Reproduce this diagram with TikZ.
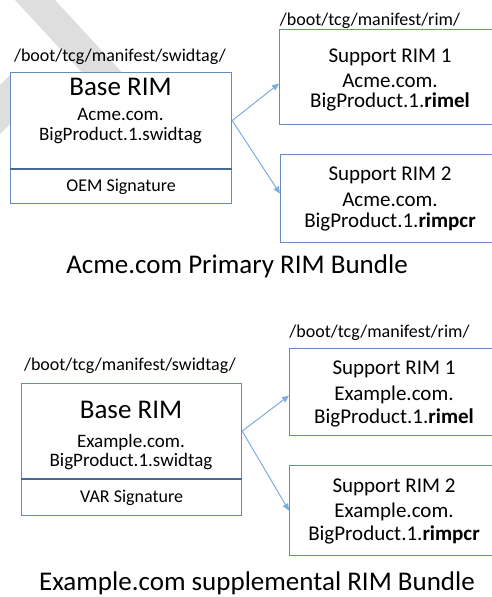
\documentclass[tikz,border=0pt]{standalone}
\usepackage{fontspec}
\setmainfont{Carlito}
\usetikzlibrary{arrows.meta}

\definecolor{rimblue}{RGB}{100,140,190}
\definecolor{rimdark}{RGB}{70,105,150}
\definecolor{linkblue}{RGB}{125,172,222}
\definecolor{wmgray}{RGB}{222,222,222}

\tikzset{
  rimbox/.style={draw=rimblue, line width=1.2pt, fill=white, inner sep=0pt, anchor=north west},
  sigbox/.style={rimbox, font=\fontsize{18}{20}\selectfont},
  pathlabel/.style={anchor=base, font=\fontsize{18}{20}\selectfont},
  rimname/.style={anchor=base, font=\fontsize{27}{30}\selectfont},
  baseline/.style={anchor=base, font=\fontsize{19}{21}\selectfont},
  supline/.style={anchor=base, font=\fontsize{21}{23}\selectfont},
  bundle/.style={anchor=base, font=\fontsize{27}{30}\selectfont},
  link/.style={draw=linkblue, line width=1pt, -{Triangle[length=7pt,width=6pt]}}
}

\begin{document}
\begin{tikzpicture}[x=1pt,y=-1pt]
\useasboundingbox (0,0) rectangle (492,597);

% watermark
\fill[wmgray] (15,0) -- (55,0) -- (140,92) -- (100,92) -- cycle;
\fill[wmgray] (0,85) -- (14,71) -- (14,120) -- (0,134) -- cycle;

% ---- Acme.com primary bundle
\node[pathlabel] (pathA1) at (120,61) {/boot/tcg/manifest/swidtag/};
\node[pathlabel] (pathA2) at (370,25) {/boot/tcg/manifest/rim/};

\node[rimbox, minimum width=221pt, minimum height=96pt] (baseA) at (10,72) {};
\node[sigbox, minimum width=221pt, minimum height=34pt] (sigA) at (baseA.south west) {OEM Signature};
\draw[rimdark, line width=1.8pt] (sigA.north west) -- (sigA.north east);
\node[rimname] (nameA) at (120.5,95) {Base RIM};
\node[baseline] (orgA) at (120.5,120) {Acme.com.};
\node[baseline] (fileA) at (120.5,140) {BigProduct.1.swidtag};

\node[rimbox, minimum width=230pt, minimum height=95pt] (supA1) at (279,29) {};
\node[supline] (supA1a) at (390,62) {Support RIM 1};
\node[supline] (supA1b) at (390,87) {Acme.com.};
\node[supline] (supA1c) at (390,107) {BigProduct.1.\textbf{rimel}};

\node[rimbox, minimum width=230pt, minimum height=88pt] (supA2) at (280,154) {};
\node[supline] (supA2a) at (390,180) {Support RIM 2};
\node[supline] (supA2b) at (390,206) {Acme.com.};
\node[supline] (supA2c) at (390,227) {BigProduct.1.\textbf{rimpcr}};

\draw[link] (baseA.east) -- ([yshift=-6.5pt]supA1.west);
\draw[link] (baseA.east) -- ([yshift=5pt]supA2.west);

\node[bundle] (titleA) at (237,273) {Acme.com Primary RIM Bundle};

% ---- Example.com supplemental bundle
\node[pathlabel] (pathB1) at (130,370) {/boot/tcg/manifest/swidtag/};
\node[pathlabel] (pathB2) at (379.5,337) {/boot/tcg/manifest/rim/};

\node[rimbox, minimum width=220pt, minimum height=95pt] (baseB) at (21,383) {};
\node[sigbox, minimum width=220pt, minimum height=36pt] (sigB) at (baseB.south west) {VAR Signature};
\draw[rimdark, line width=1.8pt] (sigB.north west) -- (sigB.north east);
\node[rimname] (nameB) at (131,418) {Base RIM};
\node[baseline] (orgB) at (131,447) {Example.com.};
\node[baseline] (fileB) at (131,466) {BigProduct.1.swidtag};

\node[rimbox, minimum width=220pt, minimum height=87pt] (supB1) at (289,348) {};
\node[supline] (supB1a) at (394,374) {Support RIM 1};
\node[supline] (supB1b) at (394,400) {Example.com.};
\node[supline] (supB1c) at (394,423) {BigProduct.1.\textbf{rimel}};

\node[rimbox, minimum width=220pt, minimum height=90pt] (supB2) at (289,465) {};
\node[supline] (supB2a) at (394,492) {Support RIM 2};
\node[supline] (supB2b) at (394,517) {Example.com.};
\node[supline] (supB2c) at (394,540) {BigProduct.1.\textbf{rimpcr}};

\draw[link] (baseB.east) -- ([yshift=-3.5pt]supB1.west);
\draw[link] (baseB.east) -- (supB2.west);

\node[bundle] (titleB) at (257,590) {Example.com supplemental RIM Bundle};
\end{tikzpicture}
\end{document}
